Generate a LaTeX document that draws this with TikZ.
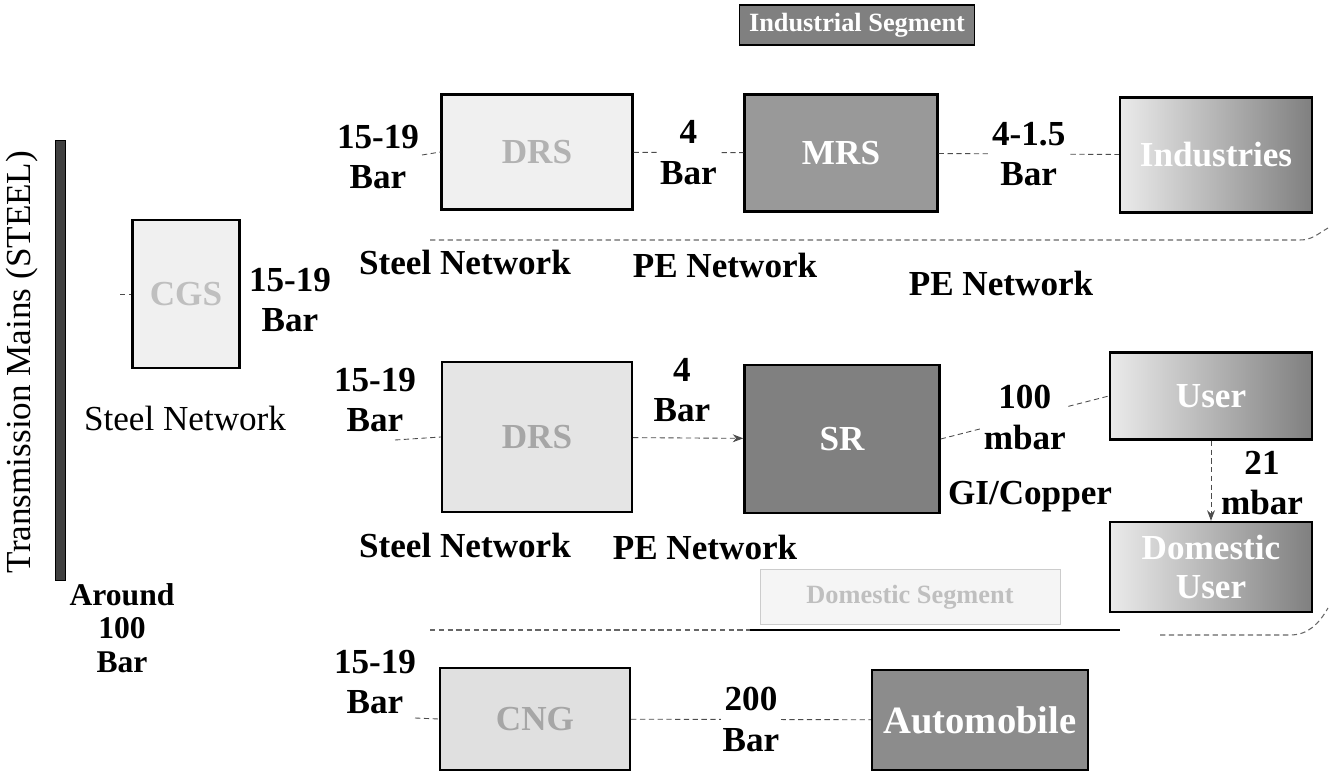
\documentclass[tikz,border=0pt]{standalone}
\usepackage{fontspec}
\setmainfont{Liberation Serif}
\usetikzlibrary{arrows.meta, positioning}

\tikzset{
  stationbox/.style={draw, rectangle, line width=1.4pt, inner sep=0pt, align=center, font=\fontsize{20}{22}\selectfont\bfseries},
  darkbox/.style={stationbox, text=white},
  fadebox/.style={stationbox, text=white, left color=black!8, right color=black!50},
  pressure/.style={align=center, inner sep=1pt, text=black, font=\fontsize{20}{23}\selectfont\bfseries},
  network/.style={inner sep=1pt, font=\fontsize{20}{22}\selectfont\bfseries},
  pipe/.style={densely dashed, line width=0.5pt, draw=black!70},
  segline/.style={densely dashed, line width=0.6pt, draw=black!60},
}

\begin{document}
\begin{tikzpicture}[x=0.02cm, y=-0.02cm]
    \useasboundingbox (0,0) rectangle (1330,777);

    % Transmission mains and city gate station
    \node (mains) [draw, fill=black!75, minimum width=0.2cm, minimum height=8.8cm, inner sep=0pt] at (60,360) {};
    \node (mainslabel) [rotate=90, font=\fontsize{20}{22}\selectfont] at (22,362) {Transmission Mains (STEEL)};
    \node (around) [pressure, font=\fontsize{18}{19}\selectfont\bfseries] at (122,628) {Around\\100\\Bar};
    \node (cgs) [stationbox, fill=black!6, text=black!25, minimum width=2.14cm, minimum height=2.96cm] at (186,294) {CGS};
    \node (cgsbar) [pressure] at (290,300) {15-19\\Bar};
    \node (cgsnet) [network, font=\fontsize{20}{22}\selectfont] at (185,418) {Steel Network};
    \coordinate (cgsin) at (120,294);
    \draw[pipe] (cgsin) -- (cgs.west);

    % Industrial segment
    \node (indseg) [darkbox, fill=black!50, line width=1pt, minimum width=4.7cm, minimum height=0.8cm, font=\fontsize{15}{17}\selectfont\bfseries] at (857,25) {Industrial Segment};
    \node (drsa) [stationbox, fill=black!6, text=black!30, minimum width=3.82cm, minimum height=2.3cm] at (537,152) {DRS};
    \node (mrs) [darkbox, fill=black!40, minimum width=3.86cm, minimum height=2.34cm] at (841,153) {MRS};
    \node (industries) [fadebox, minimum width=3.84cm, minimum height=2.3cm] at (1216,155) {Industries};
    \node (drsabar) [pressure] at (378,157) {15-19\\Bar};
    \coordinate (drsain) at (422,155);
    \draw[pipe] (drsain) -- (drsa.west);
    \draw[pipe] (drsa) -- (mrs) node[midway, pressure, fill=white] {4\\Bar};
    \draw[pipe] (mrs) -- (industries) node[midway, pressure, fill=white] {4-1.5\\Bar};
    \node (drsasteel) [network] at (465,262) {Steel Network};
    \node (drsape) [network] at (725,265) {PE Network};
    \node (mrspe) [network] at (1001,283) {PE Network};
    \draw[segline] (430,240) -- (1300,240) to[out=0, in=-150] (1328,228);

    % Domestic segment
    \node (drsb) [stationbox, fill=black!10, text=black!35, minimum width=3.8cm, minimum height=3cm] at (537,437) {DRS};
    \node (sr) [darkbox, fill=black!50, minimum width=3.9cm, minimum height=2.96cm] at (842,439) {SR};
    \node (user) [fadebox, minimum width=4.04cm, minimum height=1.74cm] at (1211,396) {User};
    \node (domestic) [fadebox, minimum width=4.04cm, minimum height=1.8cm] at (1211,567) {Domestic\\User};
    \node (drsbbar) [pressure] at (375,400) {15-19\\Bar};
    \coordinate (drsbin) at (395,440);
    \draw[pipe] (drsbin) -- (drsb.west);
    \draw[pipe, -{Stealth[length=6pt]}] (drsb) -- (sr);
    \node (srbar) [pressure] at (682,390) {4\\Bar};
    \draw[pipe] (sr.east) -- (user.west) node[midway, pressure, fill=white] {100\\mbar};
    \draw[pipe, -{Stealth[length=6pt]}] (user) -- (domestic);
    \node (usermbar) [pressure] at (1262,483) {21\\mbar};
    \node (copper) [network] at (1030,497) {GI/Copper};
    \node (drsbsteel) [network] at (465,545) {Steel Network};
    \node (drsbpe) [network] at (705,547) {PE Network};
    \node (domseg) [draw=black!20, fill=black!4, minimum width=6cm, minimum height=1.1cm, font=\fontsize{15}{17}\selectfont\bfseries, text=black!25] at (910,597) {Domestic Segment};
    \draw[segline] (430,630) -- (750,630);
    \draw[line width=1.5pt] (750,630) -- (1120,630);
    \draw[segline] (1160,635) -- (1290,635) to[out=0, in=-120] (1328,608);

    % CNG segment
    \node (cng) [stationbox, fill=black!12, text=black!35, minimum width=3.8cm, minimum height=2.04cm] at (535,719) {CNG};
    \node (auto) [darkbox, fill=black!45, minimum width=4.32cm, minimum height=2cm, font=\fontsize{22}{24}\selectfont\bfseries] at (980,720) {Automobile};
    \node (cngbar) [pressure] at (375,682) {15-19\\Bar};
    \coordinate (cngin) at (415,718);
    \draw[pipe] (cngin) -- (cng.west);
    \draw[pipe] (cng) -- (auto) node[midway, pressure, fill=white] {200\\Bar};
\end{tikzpicture}
\end{document}
